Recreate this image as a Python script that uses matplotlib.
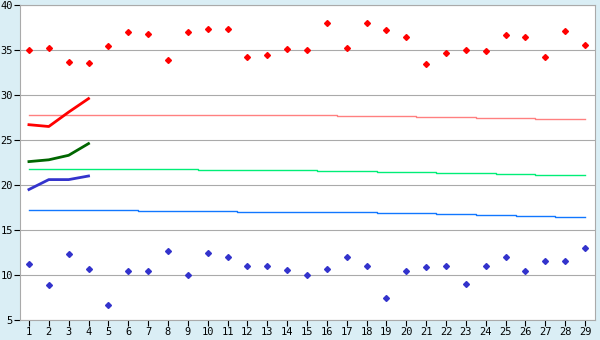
import matplotlib
matplotlib.use("Agg")
import matplotlib.pyplot as plt

days = list(range(1, 30))

high_pts = [35.0, 35.2, 33.7, 33.6, 35.5, 37.0, 36.8, 33.9, 37.0, 37.3,
            37.3, 34.2, 34.5, 35.1, 35.0, 38.0, 35.2, 38.0, 37.2, 36.5,
            33.5, 34.7, 35.0, 34.9, 36.7, 36.5, 34.2, 37.1, 35.6]
low_pts = [11.2, 8.9, 12.3, 10.7, 6.7, 10.5, 10.5, 12.7, 10.0, 12.4,
           12.0, 11.0, 11.0, 10.6, 10.0, 10.7, 12.0, 11.0, 7.5, 10.4,
           10.9, 11.0, 9.0, 11.0, 12.0, 10.4, 11.6, 11.6, 13.0]

# first four days, bold lines
recent_days = [1, 2, 3, 4]
recent_red = [26.7, 26.5, 28.1, 29.6]
recent_green = [22.6, 22.8, 23.3, 24.6]
recent_blue = [19.5, 20.6, 20.6, 21.0]

# slow-moving reference lines
ref_red = [27.74] * 16 + [27.63] * 4 + [27.52] * 3 + [27.41] * 3 + [27.30] * 3
ref_green = [21.74] * 9 + [21.63] * 6 + [21.52] * 3 + [21.41] * 3 + [21.30] * 3 + [21.19] * 2 + [21.08] * 3
ref_blue = [17.19] * 6 + [17.08] * 5 + [16.97] * 7 + [16.86] * 3 + [16.74] * 2 + [16.63] * 2 + [16.52] * 2 + [16.41] * 2

bg = "#daeef5"
fig = plt.figure(figsize=(6, 3.4), dpi=100, facecolor=bg)
ax = fig.add_axes([20 / 600, 20 / 340, 575 / 600, 315 / 340])
ax.set_facecolor("white")

ax.plot(days, ref_red, drawstyle="steps-mid", color="#ff8080", lw=1.0)
ax.plot(days, ref_green, drawstyle="steps-mid", color="#00ee77", lw=1.0)
ax.plot(days, ref_blue, drawstyle="steps-mid", color="#1177ff", lw=1.0)

ax.plot(recent_days, recent_red, color="#ff0000", lw=2.0)
ax.plot(recent_days, recent_green, color="#006600", lw=2.0)
ax.plot(recent_days, recent_blue, color="#3333cc", lw=2.0)

ax.plot(days, high_pts, ls="none", marker="D", ms=3.0, color="#ff0000", mec="#ff0000")
ax.plot(days, low_pts, ls="none", marker="D", ms=3.0, color="#3333cc", mec="#3333cc")

ax.set_xlim(0.55, 29.5)
ax.set_ylim(5, 40)
ax.set_xticks(days)
ax.set_yticks(range(5, 41, 5))
ax.yaxis.grid(True, color="#aaaaaa", lw=0.8)
ax.set_axisbelow(True)

for s in ["left", "right", "bottom", "top"]:
    ax.spines[s].set_color("#aaaaaa")
    ax.spines[s].set_linewidth(0.8)

ax.tick_params(axis="both", length=4, width=0.8, color="black", labelsize=7.5, pad=1)
for lab in ax.get_xticklabels() + ax.get_yticklabels():
    lab.set_family("DejaVu Sans Mono")

fig.savefig("out.png", dpi=100, facecolor=bg)
